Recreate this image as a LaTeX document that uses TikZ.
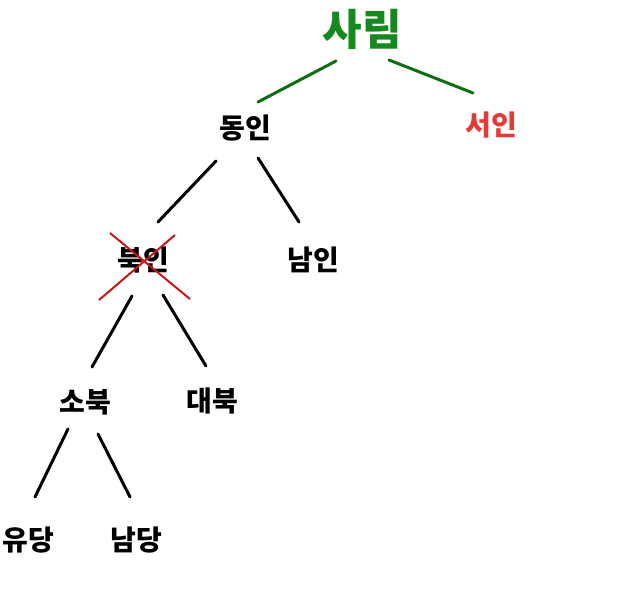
\documentclass[tikz,border=0pt]{standalone}
\usepackage{fontspec}
\usepackage{tikz}
\usetikzlibrary{calc}
\newfontfamily\kr{Noto Sans CJK KR}
\definecolor{sarimgreen}{RGB}{20,138,30}
\definecolor{stemgreen}{RGB}{14,110,18}
\definecolor{seored}{RGB}{229,57,53}
\definecolor{crossred}{RGB}{205,20,20}

\begin{document}
\begin{tikzpicture}[
        x=1pt, y=-1pt,
        every node/.style={font=\kr\bfseries\fontsize{28}{28}\selectfont, inner sep=0pt},
        branch/.style={line width=3pt, line cap=round},
        ]
        \useasboundingbox (0,0) rectangle (643,600);
        \node[text=sarimgreen, font=\kr\bfseries\fontsize{43}{43}\selectfont] (sarim) at (362,29) {사림};
        \node (dong) at (245,128) {동인};
        \node[text=seored] (seo) at (491,125) {서인};
        \node (buk) at (143,260) {북인};
        \node (nam) at (313,260) {남인};
        \node (sobuk) at (85,402) {소북};
        \node (daebuk) at (212,401) {대북};
        \node (yudang) at (28,540) {유당};
        \node (namdang) at (136,540) {남당};
        \draw[branch, stemgreen] ($(sarim)+(-26,32)$) -- ($(dong)+(13,-26)$);
        \draw[branch, stemgreen] ($(sarim)+(27,31)$) -- ($(seo)+(-18,-32)$);
        \draw[branch] ($(dong)+(-29,33)$) -- ($(buk)+(15,-38)$);
        \draw[branch] ($(dong)+(13,30)$) -- ($(nam)+(-14,-38)$);
        \draw[branch] ($(buk)+(-11,36)$) -- ($(sobuk)+(7,-35)$);
        \draw[branch] ($(buk)+(20,35)$) -- ($(daebuk)+(-6,-35)$);
        \draw[branch] ($(sobuk)+(-17,27)$) -- ($(yudang)+(7,-43)$);
        \draw[branch] ($(sobuk)+(13,32)$) -- ($(namdang)+(-6,-43)$);
        \draw[crossred, line width=2pt] ($(buk)+(-33,-27)$) -- ($(buk)+(47,39)$);
        \draw[crossred, line width=2pt] ($(buk)+(32,-25)$) -- ($(buk)+(-44,40)$);
        \end{tikzpicture}
\end{document}
